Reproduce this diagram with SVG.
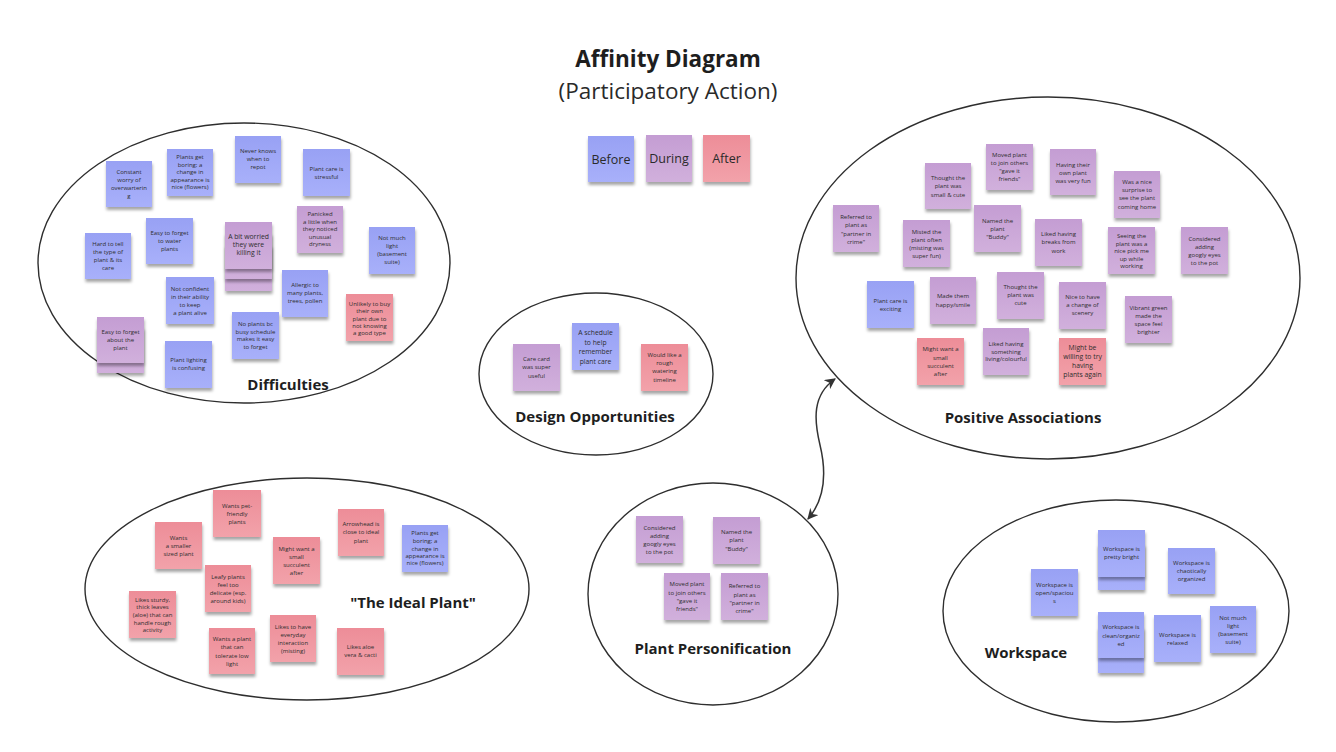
<svg xmlns="http://www.w3.org/2000/svg" width="1336" height="752" viewBox="0 0 1336 752">
<style>
.bg{fill:#ffffff}
.cl{fill:none;stroke:#2e2e2e;stroke-width:1.4}
.t{font-family:"Open Sans","Noto Sans","Liberation Sans",sans-serif;font-size:6px;fill:#2e2e2e;text-anchor:middle}
.t7{font-size:6.8px}
.lab{font-family:"Open Sans","Noto Sans","Liberation Sans",sans-serif;font-weight:bold;font-size:15px;fill:#1e1e1e;text-anchor:middle}
.leg{font-family:"Open Sans","Noto Sans","Liberation Sans",sans-serif;font-size:12.5px;fill:#2a2a2a;text-anchor:middle}
.b{fill:url(#gb)}
.p{fill:url(#gp)}
.r{fill:url(#gr)}
.n rect{filter:url(#sh)}
.con{fill:none;stroke:#333;stroke-width:1.5}
</style>
<defs>
<linearGradient id="gb" x1="0" y1="0" x2="0" y2="1"><stop offset="0" stop-color="#98a1f4"/><stop offset="1" stop-color="#a8b0fa"/></linearGradient>
<linearGradient id="gp" x1="0" y1="0" x2="0" y2="1"><stop offset="0" stop-color="#c49dd3"/><stop offset="1" stop-color="#d1b0dc"/></linearGradient>
<linearGradient id="gr" x1="0" y1="0" x2="0" y2="1"><stop offset="0" stop-color="#ed8d98"/><stop offset="1" stop-color="#f2a2aa"/></linearGradient>
<filter id="sh" x="-20%" y="-20%" width="140%" height="150%"><feDropShadow dx="0.5" dy="3" stdDeviation="1.4" flood-color="#000" flood-opacity="0.35"/></filter>
<marker id="ah" viewBox="0 0 10 10" refX="9" refY="5" markerUnits="userSpaceOnUse" markerWidth="11" markerHeight="11" orient="auto-start-reverse"><path d="M0,0 L10,5 L0,10 L3,5 z" fill="#333"/></marker>
</defs>
<rect class="bg" x="0" y="0" width="1336" height="752"/>

<g id="title">
<text x="668" y="67" font-family="'Open Sans','Noto Sans','Liberation Sans',sans-serif" font-weight="bold" font-size="22.5" fill="#1e1e1e" text-anchor="middle">Affinity Diagram</text>
<text x="668" y="99" font-family="'Open Sans','Noto Sans','Liberation Sans',sans-serif" font-size="22.5" fill="#2a2a2a" text-anchor="middle">(Participatory Action)</text>
</g>

<g id="legend" class="n">
<rect class="b" x="588" y="136" width="46" height="46"/><text class="leg" x="611" y="164">Before</text>
<rect class="p" x="646" y="135" width="46" height="47"/><text class="leg" x="669" y="163">During</text>
<rect class="r" x="703" y="135" width="47" height="47"/><text class="leg" x="726.5" y="163">After</text>
</g>

<g id="clusters">
<g id="cluster-difficulties"><ellipse class="cl" cx="244" cy="263" rx="206" ry="140"/><text class="lab" x="288" y="390">Difficulties</text></g>
<g id="cluster-design"><ellipse class="cl" cx="596" cy="374" rx="117" ry="81"/><text class="lab" x="595" y="422">Design Opportunities</text></g>
<g id="cluster-positive"><ellipse class="cl" cx="1048" cy="278" rx="252" ry="181"/><text class="lab" x="1023" y="423">Positive Associations</text></g>
<g id="cluster-ideal"><ellipse class="cl" cx="307" cy="589" rx="222" ry="111"/><text class="lab" x="413" y="608" font-size="16">"The Ideal Plant"</text></g>
<g id="cluster-personification"><ellipse class="cl" cx="713" cy="594" rx="125" ry="111"/><text class="lab" x="713" y="654">Plant Personification</text></g>
<g id="cluster-workspace"><ellipse class="cl" cx="1116" cy="611" rx="173" ry="111"/><text class="lab" x="1026" y="658">Workspace</text></g>
</g>

<g id="connectors">
<path class="con" d="M808,519 C826,498 826,470 820,445 C814,420 812,395 835,379" marker-start="url(#ah)" marker-end="url(#ah)"/>
</g>

<!-- Difficulties notes -->
<g id="d1" class="n"><rect class="b" x="106" y="161" width="46" height="46"/><text class="t"><tspan x="129" y="174">Constant</tspan><tspan x="129" y="182">worry of</tspan><tspan x="129" y="190">overwarterin</tspan><tspan x="129" y="198">g</tspan></text></g>
<g id="d2" class="n"><rect class="b" x="167" y="149" width="46" height="47"/><text class="t"><tspan x="190" y="159">Plants get</tspan><tspan x="190" y="166.5">boring; a</tspan><tspan x="190" y="174">change in</tspan><tspan x="190" y="181.5">appearance is</tspan><tspan x="190" y="189">nice (flowers)</tspan></text></g>
<g id="d3" class="n"><rect class="b" x="235" y="136" width="46" height="47"/><text class="t"><tspan x="258" y="153">Never knows</tspan><tspan x="258" y="161">when to</tspan><tspan x="258" y="169">repot</tspan></text></g>
<g id="d4" class="n"><rect class="b" x="303" y="149" width="47" height="47"/><text class="t"><tspan x="326.5" y="170.5">Plant care is</tspan><tspan x="326.5" y="178.5">stressful</tspan></text></g>
<g id="d5" class="n"><rect class="b" x="85" y="233" width="46" height="46"/><text class="t"><tspan x="108" y="246">Hard to tell</tspan><tspan x="108" y="254">the type of</tspan><tspan x="108" y="262">plant &amp; its</tspan><tspan x="108" y="270">care</tspan></text></g>
<g id="d6" class="n"><rect class="b" x="146" y="218" width="47" height="46"/><text class="t"><tspan x="169.5" y="235">Easy to forget</tspan><tspan x="169.5" y="243">to water</tspan><tspan x="169.5" y="251">plants</tspan></text></g>
<g id="d7" class="n"><rect class="p" x="225" y="245" width="47" height="46"/><rect class="p" x="225" y="233" width="47" height="46"/><rect class="p" x="225" y="222" width="47" height="47"/><text class="t t7"><tspan x="248.5" y="239">A bit worried</tspan><tspan x="248.5" y="247">they were</tspan><tspan x="248.5" y="255">killing it</tspan></text></g>
<g id="d8" class="n"><rect class="p" x="297" y="206" width="46" height="47"/><text class="t"><tspan x="320" y="216">Panicked</tspan><tspan x="320" y="223.5">a little when</tspan><tspan x="320" y="231">they noticed</tspan><tspan x="320" y="238.5">unusual</tspan><tspan x="320" y="246">dryness</tspan></text></g>
<g id="d9" class="n"><rect class="b" x="369" y="227" width="46" height="47"/><text class="t"><tspan x="392" y="240">Not much</tspan><tspan x="392" y="248">light</tspan><tspan x="392" y="256">(basement</tspan><tspan x="392" y="264">suite)</tspan></text></g>
<g id="d10" class="n"><rect class="b" x="282" y="270" width="46" height="47"/><text class="t"><tspan x="305" y="287">Allergic to</tspan><tspan x="305" y="295">many plants,</tspan><tspan x="305" y="303">trees, pollen</tspan></text></g>
<g id="d11" class="n"><rect class="r" x="346" y="294" width="47" height="47"/><text class="t"><tspan x="369.5" y="305.5">Unlikely to buy</tspan><tspan x="369.5" y="313">their own</tspan><tspan x="369.5" y="320.5">plant due to</tspan><tspan x="369.5" y="327.5">not knowing</tspan><tspan x="369.5" y="335">a good type</tspan></text></g>
<g id="d12" class="n"><rect class="b" x="166" y="277" width="48" height="47"/><text class="t"><tspan x="190" y="290.5">Not confident</tspan><tspan x="190" y="298.5">in their ability</tspan><tspan x="190" y="306.5">to keep</tspan><tspan x="190" y="315">a plant alive</tspan></text></g>
<g id="d13" class="n"><rect class="p" x="97" y="327" width="47" height="46"/><rect class="p" x="97" y="317" width="47" height="46"/><text class="t"><tspan x="120.5" y="334">Easy to forget</tspan><tspan x="120.5" y="342">about the</tspan><tspan x="120.5" y="350">plant</tspan></text></g>
<g id="d14" class="n"><rect class="b" x="232" y="312" width="47" height="47"/><text class="t"><tspan x="255.5" y="325.5">No plants bc</tspan><tspan x="255.5" y="333.5">busy schedule</tspan><tspan x="255.5" y="341">makes it easy</tspan><tspan x="255.5" y="348.5">to forget</tspan></text></g>
<g id="d15" class="n"><rect class="b" x="165" y="341" width="47" height="47"/><text class="t"><tspan x="188.5" y="362">Plant lighting</tspan><tspan x="188.5" y="370">is confusing</tspan></text></g>

<!-- Design opportunities -->
<g id="o1" class="n"><rect class="p" x="513" y="344" width="47" height="47"/><text class="t"><tspan x="536.5" y="361">Care card</tspan><tspan x="536.5" y="369">was super</tspan><tspan x="536.5" y="377.5">useful</tspan></text></g>
<g id="o2" class="n"><rect class="b" x="572" y="323" width="47" height="47"/><text class="t t7"><tspan x="595.5" y="335">A schedule</tspan><tspan x="595.5" y="344.5">to help</tspan><tspan x="595.5" y="354">remember</tspan><tspan x="595.5" y="363.5">plant care</tspan></text></g>
<g id="o3" class="n"><rect class="r" x="641" y="344" width="47" height="47"/><text class="t"><tspan x="664.5" y="357">Would like a</tspan><tspan x="664.5" y="365">rough</tspan><tspan x="664.5" y="373">watering</tspan><tspan x="664.5" y="381.5">timeline</tspan></text></g>

<!-- Positive associations -->
<g id="p1" class="n"><rect class="p" x="986" y="144" width="47" height="46"/><text class="t"><tspan x="1009.5" y="157">Moved plant</tspan><tspan x="1009.5" y="165">to join others</tspan><tspan x="1009.5" y="173">"gave it</tspan><tspan x="1009.5" y="181">friends"</tspan></text></g>
<g id="p2" class="n"><rect class="p" x="925" y="163" width="46" height="46"/><text class="t"><tspan x="948" y="180">Thought the</tspan><tspan x="948" y="188">plant was</tspan><tspan x="948" y="196.5">small &amp; cute</tspan></text></g>
<g id="p3" class="n"><rect class="p" x="833" y="205" width="46" height="47"/><text class="t"><tspan x="856" y="219">Referred to</tspan><tspan x="856" y="227">plant as</tspan><tspan x="856" y="235.5">"partner in</tspan><tspan x="856" y="243.5">crime"</tspan></text></g>
<g id="p4" class="n"><rect class="p" x="903" y="220" width="47" height="47"/><text class="t"><tspan x="926.5" y="234">Misted the</tspan><tspan x="926.5" y="242">plant often</tspan><tspan x="926.5" y="250">(misting was</tspan><tspan x="926.5" y="258">super fun)</tspan></text></g>
<g id="p5" class="n"><rect class="p" x="974" y="205" width="47" height="47"/><text class="t"><tspan x="997.5" y="223">Named the</tspan><tspan x="997.5" y="231">plant</tspan><tspan x="997.5" y="239">"Buddy"</tspan></text></g>
<g id="p6" class="n"><rect class="p" x="1050" y="149" width="46" height="46"/><text class="t"><tspan x="1073" y="166.5">Having their</tspan><tspan x="1073" y="174.5">own plant</tspan><tspan x="1073" y="182.5">was very fun</tspan></text></g>
<g id="p7" class="n"><rect class="p" x="1114" y="171" width="46" height="47"/><text class="t"><tspan x="1137" y="184">Was a nice</tspan><tspan x="1137" y="192">surprise to</tspan><tspan x="1137" y="200">see the plant</tspan><tspan x="1137" y="208.5">coming home</tspan></text></g>
<g id="p8" class="n"><rect class="p" x="1035" y="219" width="47" height="47"/><text class="t"><tspan x="1058.5" y="236">Liked having</tspan><tspan x="1058.5" y="244">breaks from</tspan><tspan x="1058.5" y="252.5">work</tspan></text></g>
<g id="p9" class="n"><rect class="p" x="1108" y="227" width="47" height="47"/><text class="t"><tspan x="1131.5" y="238">Seeing the</tspan><tspan x="1131.5" y="245.5">plant was a</tspan><tspan x="1131.5" y="253">nice pick me</tspan><tspan x="1131.5" y="260.5">up while</tspan><tspan x="1131.5" y="267.5">working</tspan></text></g>
<g id="p10" class="n"><rect class="p" x="1181" y="227" width="47" height="47"/><text class="t"><tspan x="1204.5" y="241">Considered</tspan><tspan x="1204.5" y="249">adding</tspan><tspan x="1204.5" y="257">googly eyes</tspan><tspan x="1204.5" y="265">to the pot</tspan></text></g>
<g id="p11" class="n"><rect class="b" x="867" y="281" width="47" height="47"/><text class="t"><tspan x="890.5" y="303">Plant care is</tspan><tspan x="890.5" y="311">exciting</tspan></text></g>
<g id="p12" class="n"><rect class="p" x="930" y="277" width="46" height="47"/><text class="t"><tspan x="953" y="298">Made them</tspan><tspan x="953" y="306.5">happy/smile</tspan></text></g>
<g id="p13" class="n"><rect class="p" x="997" y="272" width="47" height="47"/><text class="t"><tspan x="1020.5" y="289">Thought the</tspan><tspan x="1020.5" y="297">plant was</tspan><tspan x="1020.5" y="305">cute</tspan></text></g>
<g id="p14" class="n"><rect class="p" x="1059" y="282" width="47" height="47"/><text class="t"><tspan x="1082.5" y="298.5">Nice to have</tspan><tspan x="1082.5" y="307">a change of</tspan><tspan x="1082.5" y="315">scenery</tspan></text></g>
<g id="p15" class="n"><rect class="p" x="1125" y="296" width="47" height="47"/><text class="t"><tspan x="1148.5" y="309.5">Vibrant green</tspan><tspan x="1148.5" y="317.5">made the</tspan><tspan x="1148.5" y="325.5">space feel</tspan><tspan x="1148.5" y="334">brighter</tspan></text></g>
<g id="p16" class="n"><rect class="r" x="917" y="338" width="47" height="47"/><text class="t"><tspan x="940.5" y="351">Might want a</tspan><tspan x="940.5" y="359.5">small</tspan><tspan x="940.5" y="367.5">succulent</tspan><tspan x="940.5" y="376">after</tspan></text></g>
<g id="p17" class="n"><rect class="p" x="983" y="328" width="46" height="47"/><text class="t"><tspan x="1006" y="346">Liked having</tspan><tspan x="1006" y="353.5">something</tspan><tspan x="1006" y="361">living/colourful</tspan></text></g>
<g id="p18" class="n"><rect class="r" x="1059" y="338" width="47" height="47"/><text class="t t7"><tspan x="1082.5" y="350">Might be</tspan><tspan x="1082.5" y="359">willing to try</tspan><tspan x="1082.5" y="368">having</tspan><tspan x="1082.5" y="377">plants again</tspan></text></g>

<!-- The Ideal Plant -->
<g id="i1" class="n"><rect class="r" x="213" y="490" width="48" height="47"/><text class="t"><tspan x="237" y="508">Wants pet-</tspan><tspan x="237" y="516">friendly</tspan><tspan x="237" y="524">plants</tspan></text></g>
<g id="i2" class="n"><rect class="r" x="155" y="522" width="47" height="47"/><text class="t"><tspan x="178.5" y="539.5">Wants</tspan><tspan x="178.5" y="547.5">a smaller</tspan><tspan x="178.5" y="555.5">sized plant</tspan></text></g>
<g id="i3" class="n"><rect class="r" x="273" y="537" width="47" height="47"/><text class="t"><tspan x="296.5" y="550.5">Might want a</tspan><tspan x="296.5" y="559">small</tspan><tspan x="296.5" y="567">succulent</tspan><tspan x="296.5" y="575">after</tspan></text></g>
<g id="i4" class="n"><rect class="r" x="205" y="565" width="46" height="47"/><text class="t"><tspan x="228" y="578.5">Leafy plants</tspan><tspan x="228" y="587">feel too</tspan><tspan x="228" y="595">delicate (esp.</tspan><tspan x="228" y="603">around kids)</tspan></text></g>
<g id="i5" class="n"><rect class="r" x="129" y="591" width="47" height="47"/><text class="t"><tspan x="152.5" y="601.5">Likes sturdy,</tspan><tspan x="152.5" y="609">thick leaves</tspan><tspan x="152.5" y="617">(aloe) that can</tspan><tspan x="152.5" y="624.5">handle rough</tspan><tspan x="152.5" y="632">activity</tspan></text></g>
<g id="i6" class="n"><rect class="r" x="209" y="628" width="46" height="46"/><text class="t"><tspan x="232" y="641">Wants a plant</tspan><tspan x="232" y="649">that can</tspan><tspan x="232" y="657.5">tolerate low</tspan><tspan x="232" y="666">light</tspan></text></g>
<g id="i7" class="n"><rect class="r" x="270" y="615" width="46" height="47"/><text class="t"><tspan x="293" y="628.5">Likes to have</tspan><tspan x="293" y="637">everyday</tspan><tspan x="293" y="645">interaction</tspan><tspan x="293" y="653">(misting)</tspan></text></g>
<g id="i8" class="n"><rect class="r" x="338" y="509" width="46" height="47"/><text class="t"><tspan x="361" y="526">Arrowhead is</tspan><tspan x="361" y="534">close to ideal</tspan><tspan x="361" y="542.5">plant</tspan></text></g>
<g id="i9" class="n"><rect class="b" x="402" y="525" width="46" height="47"/><text class="t"><tspan x="425" y="535">Plants get</tspan><tspan x="425" y="543">boring; a</tspan><tspan x="425" y="550.5">change in</tspan><tspan x="425" y="558">appearance is</tspan><tspan x="425" y="565">nice (flowers)</tspan></text></g>
<g id="i10" class="n"><rect class="r" x="337" y="628" width="47" height="47"/><text class="t"><tspan x="360.5" y="649">Likes aloe</tspan><tspan x="360.5" y="657">vera &amp; cacti</tspan></text></g>

<!-- Plant Personification -->
<g id="c1" class="n"><rect class="p" x="636" y="516" width="47" height="47"/><text class="t"><tspan x="659.5" y="529.5">Considered</tspan><tspan x="659.5" y="537.5">adding</tspan><tspan x="659.5" y="546">googly eyes</tspan><tspan x="659.5" y="554">to the pot</tspan></text></g>
<g id="c2" class="n"><rect class="p" x="713" y="517" width="47" height="47"/><text class="t"><tspan x="736.5" y="534">Named the</tspan><tspan x="736.5" y="542">plant</tspan><tspan x="736.5" y="550.5">"Buddy"</tspan></text></g>
<g id="c3" class="n"><rect class="p" x="664" y="573" width="46" height="47"/><text class="t"><tspan x="687" y="586">Moved plant</tspan><tspan x="687" y="594.5">to join others</tspan><tspan x="687" y="602.5">"gave it</tspan><tspan x="687" y="610.5">friends"</tspan></text></g>
<g id="c4" class="n"><rect class="p" x="721" y="573" width="47" height="47"/><text class="t"><tspan x="744.5" y="588">Referred to</tspan><tspan x="744.5" y="596.5">plant as</tspan><tspan x="744.5" y="604.5">"partner in</tspan><tspan x="744.5" y="613">crime"</tspan></text></g>

<!-- Workspace -->
<g id="w1" class="n"><rect class="b" x="1031" y="569" width="47" height="47"/><text class="t"><tspan x="1054.5" y="586.5">Workspace is</tspan><tspan x="1054.5" y="595">open/spaciou</tspan><tspan x="1054.5" y="603">s</tspan></text></g>
<g id="w2" class="n"><rect class="b" x="1098" y="544" width="47" height="46"/><rect class="b" x="1098" y="530" width="47" height="47"/><text class="t"><tspan x="1121.5" y="551">Workspace is</tspan><tspan x="1121.5" y="559">pretty bright</tspan></text></g>
<g id="w3" class="n"><rect class="b" x="1168" y="548" width="47" height="46"/><text class="t"><tspan x="1191.5" y="565">Workspace is</tspan><tspan x="1191.5" y="573">chaotically</tspan><tspan x="1191.5" y="581">organized</tspan></text></g>
<g id="w4" class="n"><rect class="b" x="1098" y="627" width="46" height="46"/><rect class="b" x="1098" y="612" width="46" height="46"/><text class="t"><tspan x="1121" y="629">Workspace is</tspan><tspan x="1121" y="637.5">clean/organiz</tspan><tspan x="1121" y="645.5">ed</tspan></text></g>
<g id="w5" class="n"><rect class="b" x="1154" y="615" width="47" height="47"/><text class="t"><tspan x="1177.5" y="636.5">Workspace is</tspan><tspan x="1177.5" y="645">relaxed</tspan></text></g>
<g id="w6" class="n"><rect class="b" x="1210" y="606" width="46" height="47"/><text class="t"><tspan x="1233" y="619.5">Not much</tspan><tspan x="1233" y="628">light</tspan><tspan x="1233" y="636">(basement</tspan><tspan x="1233" y="644">suite)</tspan></text></g>
</svg>
